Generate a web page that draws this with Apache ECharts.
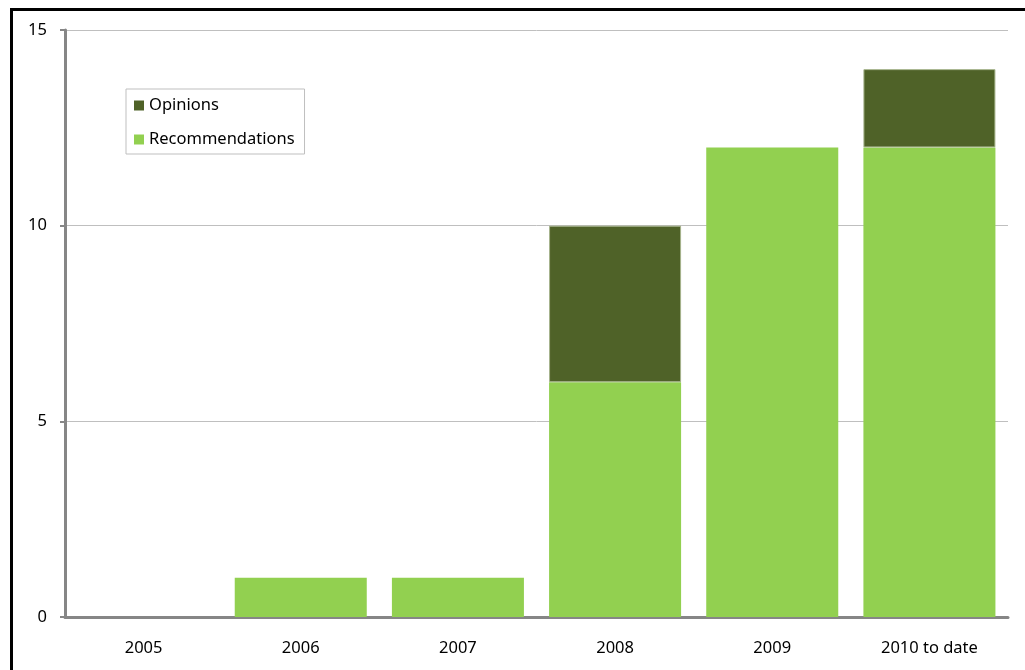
<!DOCTYPE html>
<html><head><meta charset="utf-8">
<script src="https://cdn.jsdelivr.net/npm/echarts@6/dist/echarts.min.js"></script>
<style>
html,body{margin:0;padding:0;background:#fff;overflow:hidden;}
#frame{position:absolute;left:10px;top:8px;width:1100px;height:700px;border:3px solid #000;box-sizing:border-box;}
#chart{position:absolute;left:0;top:0;width:1025px;height:670px;}
</style></head>
<body>
<div id="frame"></div>
<div id="chart"></div>
<script>
const categories = ['2005','2006','2007','2008','2009','2010 to date'];
const recommendations = [0,1,1,6,12,12];
const opinions = [0,0,0,4,0,2];
const yTicks = {min:0, max:15, interval:5};

const nz = arr => arr.map(v => v === 0 ? '-' : v);
const chart = echarts.init(document.getElementById('chart'));
const font = 'Noto Sans';
chart.setOption({
  animation:false,
  backgroundColor:'transparent',
  grid:{left:65,right:17,top:30,bottom:53},
  legend:{
    orient:'vertical', left:126, top:89,
    padding:[8,10,6,8], itemGap:17, itemWidth:10, itemHeight:10,
    borderColor:'#BFBFBF', borderWidth:1, backgroundColor:'#fff',
    icon:'rect',
    itemStyle:{borderWidth:0},
    textStyle:{fontFamily:font,fontSize:16.5,color:'#000'},
    data:['Opinions','Recommendations']
  },
  xAxis:{
    type:'category', data:categories,
    axisLine:{lineStyle:{color:'#868686',width:3}},
    axisTick:{show:false},
    axisLabel:{fontFamily:font,fontSize:16.5,color:'#000',margin:23}
  },
  yAxis:{
    type:'value', min:yTicks.min, max:yTicks.max, interval:yTicks.interval,
    axisLine:{show:true,lineStyle:{color:'#868686',width:3}},
    axisTick:{show:true,length:5,lineStyle:{color:'#868686',width:2}},
    splitLine:{lineStyle:{color:'#BFBFBF',width:1}},
    axisLabel:{fontFamily:font,fontSize:16.5,color:'#000',margin:18}
  },
  series:[
    {name:'Recommendations',type:'bar',stack:'a',data:nz(recommendations),barWidth:'84%',
     itemStyle:{color:'#92D050'}},
    {name:'Opinions',type:'bar',stack:'a',data:nz(opinions),barWidth:'84%',
     itemStyle:{color:'#4F6228',borderColor:'#A6B48C',borderWidth:1}}
  ]
});
</script>
</body></html>
